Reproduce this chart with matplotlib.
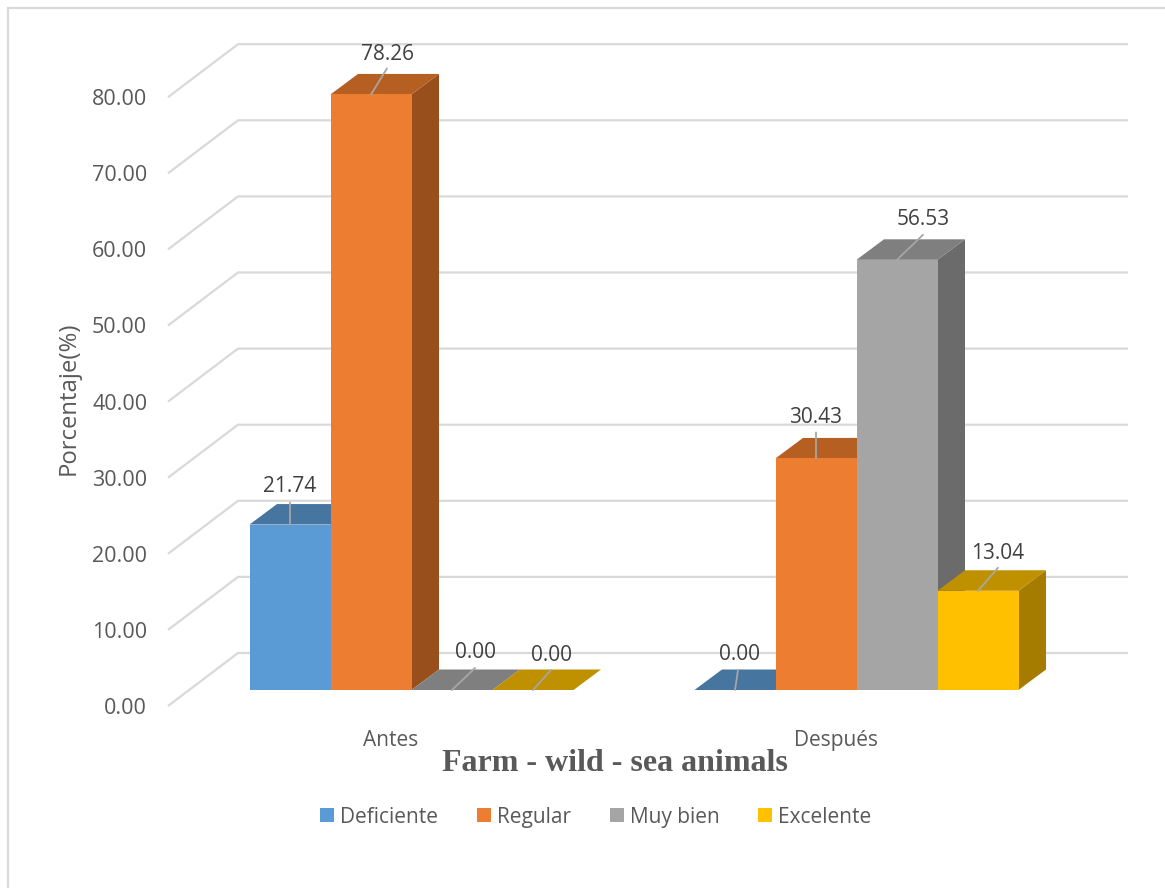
# 3D looking clustered columns, built by hand on a flat axes.

import matplotlib
matplotlib.use("Agg")
import matplotlib.pyplot as plt
from matplotlib.patches import Patch, Polygon, Rectangle

# Chart data.
categories = ["Antes", "Después"]
series_names = ["Deficiente", "Regular", "Muy bien", "Excelente"]
deficiente = [21.74, 0.00]
regular = [78.26, 30.43]
muy_bien = [0.00, 56.53]
excelente = [0.00, 13.04]
y_ticks = [0, 10, 20, 30, 40, 50, 60, 70, 80]

# Colours per series: front, top, side.
front_colors = ["#5B9BD5", "#ED7D31", "#A5A5A5", "#FFC000"]
top_colors = ["#4675A0", "#B55F22", "#7F7F7F", "#BF9000"]
side_colors = ["#3F6A92", "#984F1C", "#6B6B6B", "#A67C00"]

# Leader end and label centre, in pixels from the middle of the bar's top front edge.
leader_ends = [[(0, 22), (3, 20)], [(16, 26), (0, 26)], [(23, 22), (26, 25)], [(18, 20), (20, 23)]]
label_offsets = [[(0, 38), (4, 36)], [(16, 40), (0, 41)], [(24, 38), (26, 40)], [(18, 35), (20, 37)]]

W, H = 1165, 888
PX_X = 445.0  # pixels per category
PX_Y = 7.61  # pixels per percent
FRONT_X, FRONT_Y = 168, 706
TEXT = "#595959"
GRID = "#D9D9D9"

plt.rcParams["font.family"] = ["Open Sans", "DejaVu Sans"]

fig = plt.figure(figsize=(W / 100, H / 100), dpi=100)
ax = fig.add_axes([FRONT_X / W, (H - FRONT_Y) / H, 2 * PX_X / W, 80 * PX_Y / H])
ax.set_xlim(0, 2)
ax.set_ylim(0, 80)
for spine in ax.spines.values():
    spine.set_visible(False)
ax.patch.set_visible(False)

# Walls: full depth of the box and the depth of a bar, in data units.
wall_dx, wall_dy = 70 / PX_X, 53 / PX_Y
bar_dx, bar_dy = 27.5 / PX_X, 20.5 / PX_Y
inset_x, inset_y = 21 / PX_X, 16 / PX_Y
bar_w = 81 / PX_X
group_pad = 60.5 / PX_X

for tick in y_ticks:
    ax.plot([0, wall_dx, 2 + wall_dx], [tick, tick + wall_dy, tick + wall_dy],
            color=GRID, lw=1.6, clip_on=False, zorder=1,
            solid_joinstyle="miter", solid_capstyle="butt")

ax.set_yticks(y_ticks)
ax.set_yticklabels([f"{t:.2f}" for t in y_ticks], fontsize=15.5, color=TEXT)
ax.tick_params(axis="y", length=0, pad=15)
ax.set_xticks([i + 0.5 for i in range(len(categories))])
ax.set_xticklabels(categories, fontsize=15, color=TEXT)
ax.tick_params(axis="x", length=0, pad=17.5)
ax.set_ylabel("Porcentaje(%)", fontsize=17.2, color=TEXT)
ax.yaxis.set_label_coords((81 - FRONT_X) / (2 * PX_X), (706 - 398) / (80 * PX_Y))

# Bars, painted left to right so each front hides the side before it.
values = [deficiente, regular, muy_bien, excelente]
for c in range(len(categories)):
    for s in range(len(series_names)):
        val = values[s][c]
        x0 = c + inset_x + group_pad + s * bar_w
        x1 = x0 + bar_w
        y0 = inset_y
        y1 = inset_y + val
        z = 3 + c * 10 + s
        ax.add_patch(Polygon([(x1, y0), (x1 + bar_dx, y0 + bar_dy), (x1 + bar_dx, y1 + bar_dy), (x1, y1)],
                             fc=side_colors[s], ec="none", clip_on=False, zorder=z))
        ax.add_patch(Polygon([(x0, y1), (x0 + bar_dx, y1 + bar_dy), (x1 + bar_dx, y1 + bar_dy), (x1, y1)],
                             fc=top_colors[s], ec="none", clip_on=False, zorder=z))
        ax.add_patch(Polygon([(x0, y0), (x1, y0), (x1, y1), (x0, y1)],
                             fc=front_colors[s], ec="none", clip_on=False, zorder=z))

# Leaders and data labels go above all bars.
for c in range(len(categories)):
    for s in range(len(series_names)):
        val = values[s][c]
        mid = c + inset_x + group_pad + (s + 0.5) * bar_w
        top = inset_y + val
        ax.annotate("", xy=(mid, top), xycoords="data", xytext=leader_ends[s][c],
                    textcoords=("offset pixels"),
                    arrowprops=dict(arrowstyle="-", color="#A6A6A6", lw=1.3, shrinkA=0, shrinkB=0),
                    annotation_clip=False, zorder=50)
        ax.annotate(f"{val:.2f}", xy=(mid, top), xytext=label_offsets[s][c], textcoords="offset pixels",
                    ha="center", va="center", fontsize=15, color="#404040",
                    annotation_clip=False, zorder=51)

fig.text(615 / W, 1 - 763 / H, "Farm - wild - sea animals", family="Liberation Serif",
         fontweight="bold", fontsize=23, color=TEXT, ha="center", va="center", zorder=60)

handles = [Patch(fc=col, ec="none") for col in front_colors]
fig.legend(handles, series_names, loc="center", bbox_to_anchor=(596 / W, 1 - 817 / H), ncol=4,
           frameon=False, prop={"size": 15}, labelcolor=TEXT, handlelength=0.67, handleheight=0.67,
           handletextpad=0.3, columnspacing=1.85)

# Chart frame, running off the right and bottom edges of the picture.
fig.add_artist(Rectangle((8 / W, -0.1), 1.2, 1.1 - 8 / H, transform=fig.transFigure,
                         fc="none", ec=GRID, lw=1.6))

fig.savefig("out.png", dpi=100)
